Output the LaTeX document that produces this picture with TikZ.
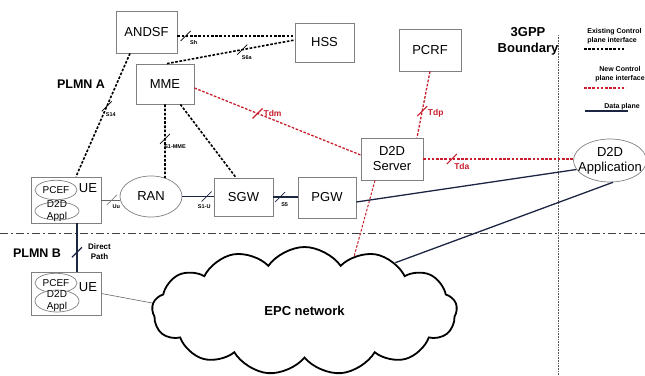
\documentclass[tikz,border=0pt]{standalone}
\usepackage{fontspec}
\setmainfont{Liberation Sans}
\usetikzlibrary{shapes.geometric,shapes.symbols}
\definecolor{boxgray}{RGB}{128,128,128}
\definecolor{tred}{RGB}{200,30,45}
\definecolor{navy}{RGB}{28,38,66}
\tikzset{
  box/.style={draw=boxgray,line width=.8pt,fill=white,inner sep=0pt,align=center,font=\fontsize{13}{15}\selectfont},
  oval/.style={ellipse,draw=boxgray,line width=.7pt,fill=white,align=center,font=\fontsize{13}{15}\selectfont},
  subval/.style={oval,inner xsep=1pt,font=\fontsize{10}{12.5}\selectfont},
  ctrl/.style={line width=1.6pt,dash pattern=on 2.6pt off 1.6pt},
  newctrl/.style={draw=tred,line width=1.3pt,dash pattern=on 2.6pt off 1.6pt},
  data/.style={draw=navy,line width=1.3pt},
  thinline/.style={draw=boxgray!80!black,line width=.6pt},
  lbl/.style={font=\bfseries\fontsize{5.5}{6}\selectfont},
  redlbl/.style={text=tred,font=\bfseries\fontsize{8.5}{10}\selectfont},
  title/.style={font=\bfseries\fontsize{12.5}{15}\selectfont,align=center},
  legend/.style={font=\bfseries\fontsize{7}{9}\selectfont,align=center},
  pics/slash/.style={code={\draw[solid,line width=.7pt,#1] (-5,5) -- (5,-5);}},
}
\begin{document}
\begin{tikzpicture}[x=1pt,y=-1pt]
  \useasboundingbox (0,0) rectangle (645,375);
  \node[box,minimum width=61pt,minimum height=42pt] (andsf) at (146.5,32) {ANDSF};
  \node[box,minimum width=59pt,minimum height=39pt] (hss) at (324.5,42.5) {HSS};
  \node[box,minimum width=58pt,minimum height=40pt] (mme) at (165,84) {MME};
  \node[box,minimum width=62pt,minimum height=42pt] (pcrf) at (430,50) {PCRF};
  \node[box,minimum width=62pt,minimum height=42pt] (srv) at (392,159) {D2D\\Server};
  \node[oval,inner xsep=-6pt,inner ysep=0pt,minimum width=72pt,minimum height=43pt] (app) at (610,160.5) {D2D\\Application};
  \node[oval,minimum width=62pt,minimum height=41pt] (ran) at (151,196.5) {RAN};
  \node[box,minimum width=59pt,minimum height=38pt] (sgw) at (243.5,197) {SGW};
  \node[box,minimum width=58pt,minimum height=41pt] (pgw) at (327,197.5) {PGW};
  \node[box,minimum width=70pt,minimum height=46pt] (ue1) at (66,200) {};
  \node[subval,minimum width=42pt,minimum height=14pt] (pcef1) at (56,190) {PCEF};
  \node[subval,inner ysep=-5pt,minimum width=44pt,minimum height=18pt] (appl1) at (57,211) {D2D\\Appl};
  \node[font=\fontsize{13}{15}\selectfont] (uelbl1) at (88,188) {UE};
  \node[box,minimum width=70pt,minimum height=43pt] (ue2) at (66,293.5) {};
  \node[subval,minimum width=42pt,minimum height=11pt] (pcef2) at (56,283) {PCEF};
  \node[subval,inner ysep=-5pt,minimum width=44pt,minimum height=22pt] (appl2) at (57,301) {D2D\\Appl};
  \node[font=\fontsize{13}{15}\selectfont] (uelbl2) at (88,287) {UE};
  \node[cloud,draw,line width=1.8pt,cloud puffs=13,cloud puff arc=110,aspect=2.4,minimum width=305pt,minimum height=128pt,font=\bfseries\fontsize{13}{15}\selectfont] (epc) at (304.5,311) {EPC network};
  \node[title] (plmna) at (81,84) {PLMN A};
  \node[title] (plmnb) at (37,253) {PLMN B};
  \node[font=\bfseries\fontsize{8}{10}\selectfont,align=center] (direct) at (99.5,252) {Direct\\Path};
  \node[font=\bfseries\fontsize{13}{16}\selectfont,align=center] (bound) at (528,41) {3GPP\\Boundary};
  \node[legend,anchor=east,align=left] (leg1) at (645,36.5) {Existing Control\\plane interface};
  \node[legend] (leg2) at (620,74.5) {New Control\\plane interface};
  \node[legend] (leg3) at (622,107) {Data plane};
  \draw[boxgray!70!black,line width=.6pt,dash pattern=on .8pt off .8pt] (558,35) -- (558,375);
  \draw[black!75,line width=.8pt,dash pattern=on 8pt off 3pt on 2pt off 3pt] (0,233) -- (645,233);
  \draw[ctrl,line width=1.2pt] (584,49) -- (625,49);
  \draw[newctrl] (584,88) -- (626,88);
  \draw[data] (585,111) -- (628,111);
  \draw[ctrl] ([yshift=-4pt]andsf.east) -- pic[pos=.07]{slash=black} node[pos=.07,lbl,xshift=8pt,yshift=-7pt]{Sh} ([yshift=6.5pt]hss.west);
  \draw[ctrl] ([xshift=2pt]mme.north) -- pic[pos=.59]{slash=black} node[pos=.59,lbl,xshift=4.5pt,yshift=-8pt]{S6a} ([yshift=2.5pt]hss.west);
  \draw[ctrl] ([xshift=-16.5pt]andsf.south) -- pic[pos=.43]{slash=black} node[pos=.43,lbl,xshift=4pt,yshift=-8pt]{S14} ([xshift=10pt]ue1.north);
  \draw[ctrl] (mme.south) -- pic[pos=.47]{slash=black} node[pos=.47,lbl,xshift=10pt,yshift=-8pt]{S1-MME} (ran.53);
  \draw[ctrl] ([xshift=-14pt]mme.south east) -- ([xshift=-7.5pt]sgw.north);
  \draw[newctrl] ([yshift=-4pt]mme.east) -- pic[pos=.38]{slash={tred,line width=1.2pt}} node[pos=.38,redlbl,xshift=15pt]{Tdm} ([yshift=4pt]srv.west);
  \draw[newctrl] (pcrf.south) -- pic[pos=.6]{slash={tred,line width=1pt}} node[pos=.6,redlbl,xshift=13.5pt,yshift=-2pt]{Tdp} ([xshift=25pt]srv.north);
  \draw[newctrl] (srv.east) -- pic[pos=.19]{slash={tred,line width=1.2pt}} node[pos=.19,redlbl,xshift=10pt,yshift=-7pt]{Tda} (srv.east -| app.west);
  \draw[newctrl,line width=1pt] ([xshift=-17pt]srv.south) -- (epc.48);
  \draw[thinline] (ue1.east) -- pic[pos=.57]{slash=boxgray} node[pos=.57,lbl,xshift=4.5pt,yshift=-7pt]{Uu} (ue1.east -| ran.west);
  \draw[data] (ran.east) -- pic[pos=.78]{slash=navy} node[pos=.78,lbl,xshift=-2.5pt,yshift=-10pt]{S1-U} (ran.east -| sgw.west);
  \draw[data] (sgw.east) -- pic[pos=.28]{slash=navy} node[pos=.28,lbl,xshift=4.5pt,yshift=-8pt]{S5} (sgw.east -| pgw.west);
  \draw[data] ([xshift=11pt]ue1.south) -- pic[pos=.6]{slash={navy,line width=1.2pt}} ([xshift=11pt]ue2.north);
  \draw[data] ([yshift=-4.5pt]pgw.east) -- (app.195);
  \draw[data] (epc.28) -- (app.278);
  \draw[thinline] (ue2.east) -- (epc.177);
\end{tikzpicture}
\end{document}
